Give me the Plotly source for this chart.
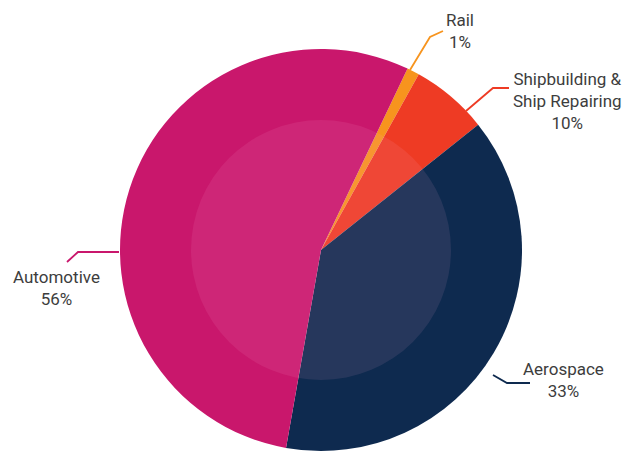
import plotly.graph_objects as go

W, H = 628, 453

# slice shares as drawn (degrees measured from picture converted to %)
categories = ["Rail", "Shipbuilding &<br>Ship Repairing", "Aerospace", "Automotive"]
shares = [1.0, 6.2, 38.5, 54.3]
pct_labels = ["1%", "10%", "33%", "56%"]
colors = ["#F7941E", "#EE3B24", "#0E2A4F", "#C9176C"]

def px(x):
    return x / W

def py(y):
    return (H - y) / H

cx, cy, R, r_in = 321, 250, 201, 130

fig = go.Figure(go.Pie(
    labels=categories,
    values=shares,
    sort=False,
    direction="clockwise",
    rotation=25.5,
    marker=dict(colors=colors, line=dict(width=0)),
    textinfo="none",
    hoverinfo="label",
    showlegend=False,
    domain=dict(x=[px(cx - R), px(cx + R)], y=[py(cy + R), py(cy - R)]),
))

shapes = [dict(type="circle", xref="paper", yref="paper",
               x0=px(cx - r_in), x1=px(cx + r_in), y0=py(cy + r_in), y1=py(cy - r_in),
               fillcolor="rgba(255,180,215,0.10)", line=dict(width=0), layer="above")]

leaders = [
    ([(410, 70), (430, 37), (443, 31)], colors[0]),
    ([(466, 111), (493, 88), (509, 88)], colors[1]),
    ([(493, 375), (507, 383), (530, 383)], colors[2]),
    ([(119, 252), (78, 252), (67, 262)], colors[3]),
]
for pts, col in leaders:
    path = "M " + " L ".join(f"{px(x):.5f},{py(y):.5f}" for x, y in pts)
    shapes.append(dict(type="path", xref="paper", yref="paper", path=path,
                       line=dict(color=col, width=1.8)))

label_pos = [(460, 31), (567, 101), (563, 380), (57, 288)]
annotations = []
for cat, pct, (x, y) in zip(categories, pct_labels, label_pos):
    annotations.append(dict(x=px(x), y=py(y), xref="paper", yref="paper",
                            text=f"{cat}<br>{pct}", showarrow=False, align="center",
                            xanchor="center", yanchor="middle",
                            font=dict(family="Roboto", size=17, color="#3d3d3d")))

fig.update_layout(width=W, height=H, margin=dict(l=0, r=0, t=0, b=0),
                  paper_bgcolor="white", plot_bgcolor="white",
                  shapes=shapes, annotations=annotations)
fig.write_html("out.html", config={"displayModeBar": False},
               post_script="document.body.style.margin='0';document.body.style.overflow='hidden';")
